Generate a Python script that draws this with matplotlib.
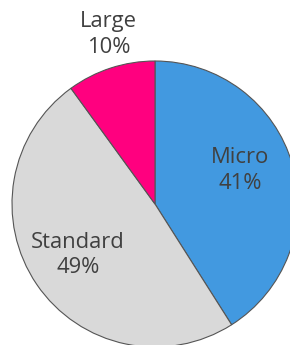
import matplotlib
matplotlib.use("Agg")
import matplotlib.pyplot as plt
import numpy as np

categories = ["Micro", "Standard", "Large"]
values = [41, 49, 10]
colors = ["#4299E0", "#D9D9D9", "#FF007F"]

W, H = 290, 345
fig = plt.figure(figsize=(W / 100, H / 100), dpi=100)
ax = fig.add_axes([0, 0, 1, 1])
ax.set_xlim(0, W)
ax.set_ylim(0, H)
ax.set_aspect("equal")
ax.axis("off")

cx, cy, r = 155, H - 204, 143
wedges, _ = ax.pie(values, colors=colors, startangle=90, counterclock=False,
                   center=(cx, cy), radius=r, frame=True,
                   wedgeprops=dict(edgecolor="#555555", linewidth=0.8))
ax.set_xlim(0, W)
ax.set_ylim(0, H)
ax.axis("off")

# label placement: (fraction of radius, angle adjustment in degrees)
label_pos = [(0.64, 5.5), (0.645, -0.7), (1.23, -2.7)]
for w, cat, v, (fr, dth) in zip(wedges, categories, values, label_pos):
    ang = np.deg2rad((w.theta1 + w.theta2) / 2 + dth)
    x = cx + fr * r * np.cos(ang)
    y = cy + fr * r * np.sin(ang)
    ax.text(x, y, f"{cat}\n{v}%", ha="center", va="center", fontsize=15.8,
            color="#404040", family="Open Sans", linespacing=1.3)

fig.savefig("out.png", dpi=100)
